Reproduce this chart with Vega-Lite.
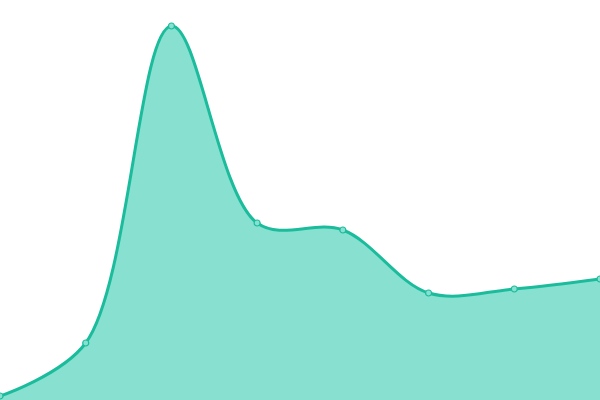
{
  "$schema": "https://vega.github.io/schema/vega-lite/v6.json",
  "autosize": {"type": "none"},
  "width": 600,
  "height": 400,
  "padding": 0,
  "background": "white",
  "config": {"view": {"stroke": null}},
  "data": {
    "values": [
      {"x": 0, "y": 1},
      {"x": 1, "y": 14.25},
      {"x": 2, "y": 93.5},
      {"x": 3, "y": 44.25},
      {"x": 4, "y": 42.5},
      {"x": 5, "y": 26.75},
      {"x": 6, "y": 27.75},
      {"x": 7, "y": 30.25}
    ]
  },
  "encoding": {
    "x": {"field": "x", "type": "quantitative", "axis": null, "scale": {"domain": [0, 7], "nice": false}},
    "y": {"field": "y", "type": "quantitative", "axis": null, "scale": {"domain": [0, 100], "nice": false}}
  },
  "layer": [
    {"mark": {"type": "area", "interpolate": "catmull-rom", "color": "#88e0d0", "opacity": 1}},
    {"mark": {"type": "line", "interpolate": "catmull-rom", "color": "#1abc9c", "strokeWidth": 3}},
    {"mark": {"type": "point", "filled": true, "fill": "#88e0d0", "stroke": "#1abc9c", "strokeWidth": 1.2, "size": 36, "opacity": 1}}
  ]
}
